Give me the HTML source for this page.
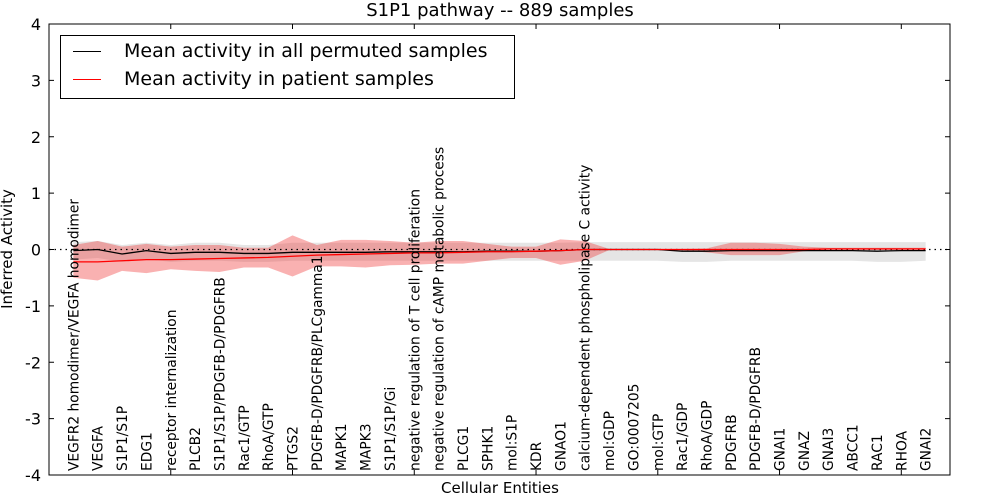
<!DOCTYPE html>
<html><head><meta charset="utf-8"><style>
body{margin:0;background:#fff}
svg{display:block;font-family:"DejaVu Sans","Liberation Sans",sans-serif}
</style></head><body>
<svg id="chart" width="1000" height="500"></svg>
<script>
const categories=["VEGFR2 homodimer/VEGFA homodimer","VEGFA","S1P1/S1P","EDG1","receptor internalization","PLCB2","S1P1/S1P/PDGFB-D/PDGFRB","Rac1/GTP","RhoA/GTP","PTGS2","PDGFB-D/PDGFRB/PLCgamma1","MAPK1","MAPK3","S1P1/S1P/Gi","negative regulation of T cell proliferation","negative regulation of cAMP metabolic process","PLCG1","SPHK1","mol:S1P","KDR","GNAO1","calcium-dependent phospholipase C activity","mol:GDP","GO:0007205","mol:GTP","Rac1/GDP","RhoA/GDP","PDGFRB","PDGFB-D/PDGFRB","GNAI1","GNAZ","GNAI3","ABCC1","RAC1","RHOA","GNAI2"];
const permMean=[-0.02,0,-0.08,-0.02,-0.07,-0.05,-0.05,-0.07,-0.07,-0.05,-0.05,-0.05,-0.05,-0.04,-0.04,-0.04,-0.04,-0.03,-0.03,-0.03,-0.02,0,0,0,0,-0.03,-0.03,-0.02,-0.02,-0.02,-0.02,-0.02,-0.02,-0.03,-0.02,-0.02];
const permUpper=[0.13,0.15,0.08,0.12,0.08,0.12,0.12,0.08,0.08,0.12,0.12,0.12,0.12,0.12,0.12,0.12,0.12,0.12,0.12,0.12,0.12,0.13,0.13,0.13,0.13,0.13,0.13,0.13,0.13,0.13,0.13,0.13,0.13,0.13,0.13,0.13];
const permLower=[-0.18,-0.15,-0.22,-0.17,-0.22,-0.2,-0.2,-0.22,-0.22,-0.2,-0.2,-0.2,-0.2,-0.2,-0.2,-0.2,-0.2,-0.2,-0.2,-0.2,-0.2,-0.2,-0.2,-0.2,-0.2,-0.22,-0.22,-0.2,-0.2,-0.2,-0.2,-0.2,-0.2,-0.22,-0.22,-0.2];
const patMean=[-0.22,-0.22,-0.2,-0.18,-0.18,-0.17,-0.16,-0.15,-0.14,-0.12,-0.1,-0.09,-0.08,-0.07,-0.06,-0.06,-0.05,-0.04,-0.04,-0.03,-0.02,0,0,0,0,0,0,0,0,0,0,0.01,0.01,0.01,0.01,0.01];
const patUpper=[0.08,0.15,0.05,0.1,0.05,0.08,0.08,0.03,0.03,0.25,0.08,0.17,0.17,0.15,0.12,0.15,0.15,0.1,0.05,0.05,0.18,0.15,0.01,0.01,0.01,0.01,0.02,0.12,0.12,0.1,0.05,0.03,0.03,0.03,0.03,0.03];
const patLower=[-0.5,-0.55,-0.38,-0.42,-0.35,-0.38,-0.4,-0.32,-0.32,-0.48,-0.3,-0.3,-0.32,-0.28,-0.27,-0.25,-0.25,-0.2,-0.15,-0.15,-0.27,-0.2,-0.01,-0.01,-0.01,-0.01,-0.05,-0.1,-0.1,-0.1,-0.03,0,0,0,0,0];
const yTicks=[-4,-3,-2,-1,0,1,2,3,4];
const xTicks=[0,5,10,15,20,25,30,35];

const svg=document.getElementById('chart');
const NS='http://www.w3.org/2000/svg';
const L=49,R=950,T=24,B=475;
const X=v=>L+(v/37)*(R-L);
const Y=v=>T+(4-v)/8*(B-T);
function mk(tag,attrs,parent){const e=document.createElementNS(NS,tag);for(const k in attrs)e.setAttribute(k,attrs[k]);(parent||svg).appendChild(e);return e;}
function band(up,lo,fill,name){
  let d='';up.forEach((v,i)=>{d+=(i?'L':'M')+X(i+1)+','+Y(v);});
  for(let i=lo.length-1;i>=0;i--)d+='L'+X(i+1)+','+Y(lo[i]);
  const p=mk('path',{d:d+'Z',fill:fill});
  
  
}
function line(vals,stroke,name,w){
  const p=mk('polyline',{points:vals.map((v,i)=>X(i+1)+','+Y(v)).join(' '),fill:'none',stroke:stroke,'stroke-width':w});
  
  
}
band(permUpper,permLower,'rgba(190,190,190,0.4)','permuted-band');
band(patUpper,patLower,'rgba(240,60,60,0.4)','patient-band');
const zl=mk('line',{x1:L,x2:R,y1:Y(0),y2:Y(0),stroke:'#000','stroke-dasharray':'1.5,4','stroke-width':1.2});


line(permMean,'#000','permuted-mean-line',1.3);
line(patMean,'#f00','patient-mean-line',1.3);
const frame=mk('rect',{x:L,y:T,width:R-L,height:B-T,fill:'none',stroke:'#000','stroke-width':1});


yTicks.forEach(v=>{
  mk('line',{x1:L,x2:L+5,y1:Y(v),y2:Y(v),stroke:'#000'});
  mk('line',{x1:R,x2:R-5,y1:Y(v),y2:Y(v),stroke:'#000'});
  const t=mk('text',{x:L-8,y:Y(v)+6,'text-anchor':'end','font-size':16});
  t.textContent=v;
  
  
});
xTicks.forEach(v=>{
  mk('line',{x1:X(v),x2:X(v),y1:T,y2:T+5,stroke:'#000'});
  mk('line',{x1:X(v),x2:X(v),y1:B,y2:B-5,stroke:'#000'});
});
categories.forEach((c,i)=>{
  const x=X(i+1)+5,y=471;
  const t=mk('text',{x:x,y:y,transform:'rotate(-90 '+x+' '+y+')','font-size':13.8});
  t.textContent=c;
  
  
});
</script>
<div style="position:absolute;left:0;top:0;width:1000px;height:500px;pointer-events:none;font-family:'DejaVu Sans','Liberation Sans',sans-serif">
<div style="position:absolute;left:0;width:1000px;top:0;text-align:center;font-size:18px">S1P1 pathway -- 889 samples</div>
<div style="position:absolute;left:-93px;top:240px;width:200px;text-align:center;font-size:15px;white-space:nowrap;transform:rotate(-90deg)">Inferred Activity</div>
<div style="position:absolute;left:0;width:1000px;top:479px;text-align:center;font-size:15px">Cellular Entities</div>
<div style="position:absolute;left:60px;top:35px;width:453px;height:62px;border:1px solid #000;background:#fff;font-size:19px">
 <div style="position:absolute;left:12px;top:4px;white-space:nowrap"><span style="display:inline-block;width:28px;height:1.5px;background:#000;vertical-align:middle;margin-right:23px"></span>Mean activity in all permuted samples</div>
 <div style="position:absolute;left:12px;top:32px;white-space:nowrap"><span style="display:inline-block;width:28px;height:1.5px;background:#f00;vertical-align:middle;margin-right:23px"></span>Mean activity in patient samples</div>
</div>
</div>
</body></html>
